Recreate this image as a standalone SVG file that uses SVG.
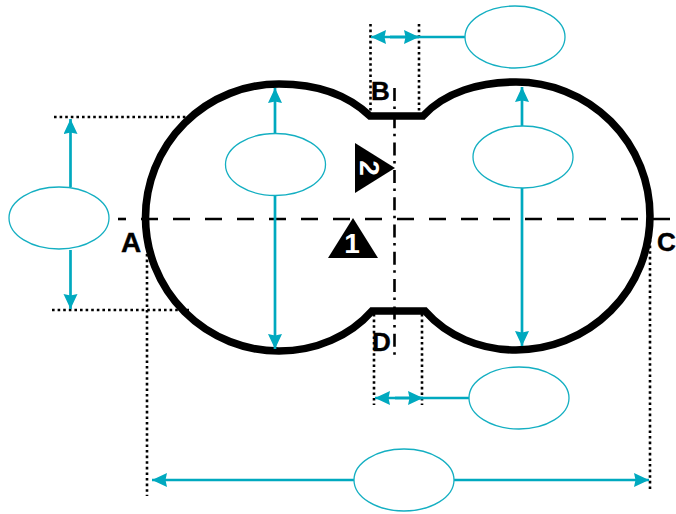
<svg xmlns="http://www.w3.org/2000/svg" width="676" height="514" viewBox="0 0 676 514">
<style>
.dot{fill:none;stroke:#000;stroke-width:2.6;stroke-dasharray:2.6 3}
.axis{fill:none;stroke:#000;stroke-width:2.6}
.out{fill:none;stroke:#000;stroke-width:7.6;stroke-linejoin:miter}
.arr{fill:none;stroke:#00A9BF;stroke-width:2.7;marker-end:url(#h)}
.dim{fill:#fff;stroke:#14AFC2;stroke-width:1.3}
.lab{font-family:"Liberation Sans",Arial,sans-serif;font-weight:bold;font-size:26px;fill:#000;stroke:#000;stroke-width:.4}
.num{font-family:"Liberation Sans",Arial,sans-serif;font-weight:bold;font-size:28px;fill:#fff;text-anchor:middle}
</style>
<defs>
<marker id="h" markerUnits="userSpaceOnUse" markerWidth="17" markerHeight="15" refX="15" refY="7" orient="auto">
<path d="M0 0L15 7L0 14L1.500 7Z" fill="#00A9BF"/>
</marker>
</defs>
<rect width="676" height="514" fill="#fff"/>
<g id="guides">
<path class="dot" d="M54 117H190"/>
<path class="dot" d="M52 310H190"/>
<path class="dot" d="M370.500 24V114"/>
<path class="dot" d="M419 24V114"/>
<path class="dot" d="M374 314V405"/>
<path class="dot" d="M422 314V405"/>
<path class="dot" d="M147 254V496"/>
<path class="dot" d="M650 240V492"/>
<path class="axis" d="M118 219H126"/>
<path class="axis" stroke-dasharray="17 15" d="M141 219H670"/>
<path class="axis" stroke-dasharray="13 5.500 2.500 6.300" d="M394.500 88V356"/>
</g>
<g id="outline">
<path class="out" d="M370 116H423C445 92 480 82 516 82A134 134 0 0 1 516 350C480 350 447 336 425 311H372C350 336 316 351 279 351A133.500 133.500 0 0 1 279 84C316 84 348 95 370 116Z"/>
</g>
<g id="connectors">
<path class="arr" d="M70.500 187V119"/>
<path class="arr" d="M70.500 250V309"/>
<path class="arr" d="M275 133V88"/>
<path class="arr" d="M275 196V349"/>
<path class="arr" d="M522 126V87"/>
<path class="arr" d="M522 188V346"/>
<path class="arr" d="M466 37H371"/>
<path class="arr" d="M390 37H419"/>
<path class="arr" d="M470 398H375"/>
<path class="arr" d="M395 398H423"/>
<path class="arr" d="M354 480H152"/>
<path class="arr" d="M454 480H649"/>
</g>
<g id="section-a"><text class="lab" x="121" y="252" style="font-size:28px">A</text></g>
<g id="section-b"><text class="lab" x="371" y="100">B</text></g>
<g id="section-c"><text class="lab" x="657" y="251">C</text></g>
<g id="section-d"><text class="lab" x="372" y="351">D</text></g>
<g id="view-1">
<path d="M353 218L378 258H328Z" fill="#000"/>
<text class="num" x="352" y="253">1</text>
</g>
<g id="view-2">
<path d="M355 143L395 168L355 193Z" fill="#000"/>
<text class="num" transform="translate(360 168) rotate(90)" x="0" y="0">2</text>
</g>
<g id="dim-top"><ellipse class="dim" cx="515" cy="37" rx="50" ry="31"/></g>
<g id="dim-left"><ellipse class="dim" cx="59" cy="218" rx="50" ry="31"/></g>
<g id="dim-inner-left"><ellipse class="dim" cx="275.500" cy="164.500" rx="50" ry="31"/></g>
<g id="dim-inner-right"><ellipse class="dim" cx="523" cy="157" rx="50" ry="31"/></g>
<g id="dim-neck-bottom"><ellipse class="dim" cx="519" cy="398" rx="50" ry="31"/></g>
<g id="dim-bottom"><ellipse class="dim" cx="404" cy="480" rx="50" ry="31"/></g>
</svg>
